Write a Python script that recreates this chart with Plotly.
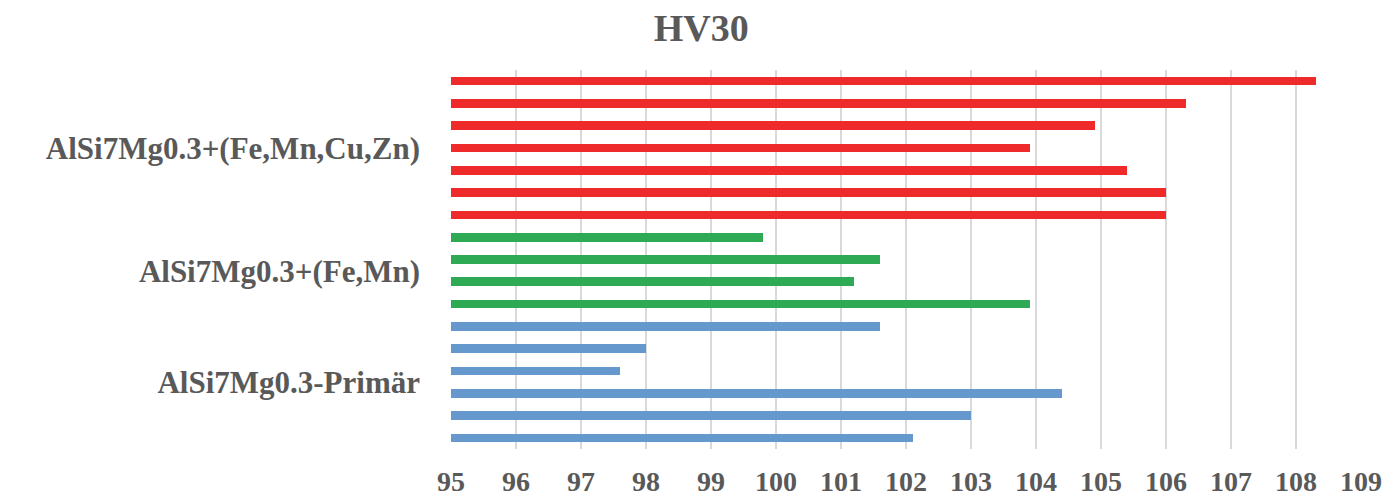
import plotly.graph_objects as go

# HV30 hardness readings per alloy group, listed top to bottom
groups = ["AlSi7Mg0.3+(Fe,Mn,Cu,Zn)", "AlSi7Mg0.3+(Fe,Mn)", "AlSi7Mg0.3-Primär"]
hv_fe_mn_cu_zn = [108.3, 106.3, 104.9, 103.9, 105.4, 106.0, 106.0]
hv_fe_mn = [99.8, 101.6, 101.2, 103.9]
hv_primaer = [101.6, 98.0, 97.6, 104.4, 103.0, 102.1]
x_ticks = list(range(95, 110))

colors = ["#EE2A2A", "#2EAA55", "#6599CD"]
series = [hv_fe_mn_cu_zn, hv_fe_mn, hv_primaer]

fig = go.Figure()
pos = 0
centers = []
for vals, col, name in zip(series, colors, groups):
    ys = list(range(pos, pos + len(vals)))
    centers.append(pos + (len(vals) - 1) / 2)
    fig.add_trace(go.Bar(
        x=vals, y=ys, orientation="h", name=name,
        marker=dict(color=col, line=dict(color=col, width=0)),
        width=0.39, showlegend=False,
    ))
    pos += len(vals)

grey = "#595959"
fig.update_layout(
    width=1397, height=499,
    paper_bgcolor="white", plot_bgcolor="white",
    margin=dict(l=451, r=36, t=70, b=50),
    title=dict(
        text="<b>HV30</b>", x=0.502, xanchor="center",
        y=1 - 28 / 499, yanchor="middle", yref="container",
        font=dict(family="Liberation Serif", size=38, color=grey),
    ),
    bargap=0,
)
fig.update_xaxes(
    range=[95, 109], tickvals=x_ticks,
    ticktext=[f"<b>{t}</b>" for t in x_ticks],
    showgrid=True, gridcolor="#D9D9D9", gridwidth=2,
    zeroline=False, showline=False, ticks="",
    tickfont=dict(family="Liberation Serif", size=28, color=grey),
    ticklabelstandoff=13, automargin=False,
)
fig.update_yaxes(
    range=[pos - 0.5, -0.5], tickvals=centers,
    ticktext=[f"<b>{g}</b>" for g in groups],
    showgrid=False, zeroline=False, showline=False, ticks="",
    tickfont=dict(family="Liberation Serif", size=31, color=grey),
    ticklabelstandoff=30, automargin=False,
)

fig.write_html("out.html")
